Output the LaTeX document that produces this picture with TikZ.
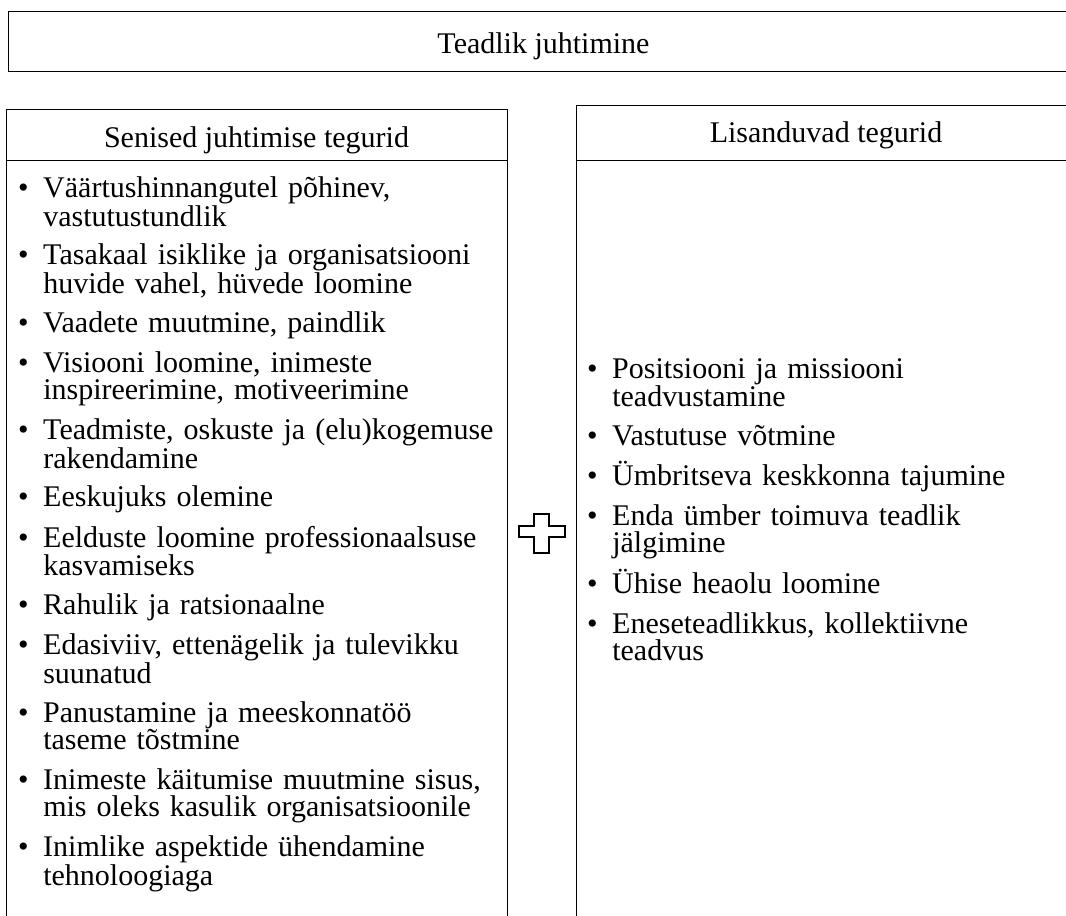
\documentclass[tikz,border=0pt]{standalone}
\usepackage{fontspec}
\setmainfont{Liberation Serif}
\usetikzlibrary{positioning}

\tikzset{
  frame/.style={draw=black,line width=0.75pt},
  heading/.style={font=\fontsize{22.5pt}{22pt}\selectfont,inner sep=0pt,anchor=base},
  point/.style={font=\fontsize{22.5pt}{20.25pt}\selectfont,inner sep=0pt,
    text width=350pt,align=left,anchor=base west}
}
\newcommand{\itm}[1]{\lineskiplimit=-\maxdimen\leavevmode\llap{\textbullet\hspace{11pt}}#1}

\begin{document}
\begin{tikzpicture}[x=0.75pt,y=-0.75pt]
        \useasboundingbox (0,0) rectangle (1066,915);
        \clip (0,0) rectangle (1066,915);

        % Frames
        \draw[frame] (8,11) rectangle (1079,71);
        \draw[frame] (6,109) rectangle (507,930);
        \draw[frame] (6,160) -- (507,160);
        \draw[frame] (576,105) rectangle (1076,930);
        \draw[frame] (576,160) -- (1076,160);

        % Headings
        \node[heading] (title) at (543.5,53) {Teadlik juhtimine};
        \node[heading] (oldhead) at (256.5,147) {Senised juhtimise tegurid};
        \node[heading] (newhead) at (826,142) {Lisanduvad tegurid};

        % Senised tegurid
        \node[point] (old1) at (43,197.5) {\itm{Väärtushinnangutel põhinev,\\vastutustundlik}};
        \node[point] (old2) at (43,264.8) {\itm{Tasakaal isiklike ja organisatsiooni\\huvide vahel, hüvede loomine}};
        \node[point] (old3) at (43,332.0) {\itm{Vaadete muutmine, paindlik}};
        \node[point] (old4) at (43,372.3) {\itm{Visiooni loomine, inimeste\\inspireerimine, motiveerimine}};
        \node[point] (old5) at (43,439.6) {\itm{Teadmiste, oskuste ja (elu)kogemuse\\rakendamine}};
        \node[point] (old6) at (43,506.8) {\itm{Eeskujuks olemine}};
        \node[point] (old7) at (43,547.1) {\itm{Eelduste loomine professionaalsuse\\kasvamiseks}};
        \node[point] (old8) at (43,614.4) {\itm{Rahulik ja ratsionaalne}};
        \node[point] (old9) at (43,654.7) {\itm{Edasiviiv, ettenägelik ja tulevikku\\suunatud}};
        \node[point] (old10) at (43,722.0) {\itm{Panustamine ja meeskonnatöö\\taseme tõstmine}};
        \node[point] (old11) at (43,789.2) {\itm{Inimeste käitumise muutmine sisus,\\mis oleks kasulik organisatsioonile}};
        \node[point] (old12) at (43,856.5) {\itm{Inimlike aspektide ühendamine\\tehnoloogiaga}};

        % Plus
        \draw[line width=1.5pt,line join=miter] (534,514) -- (549,514) -- (549,526) -- (565,526)
          -- (565,537) -- (549,537) -- (549,553) -- (534,553) -- (534,537) -- (519,537)
          -- (519,526) -- (534,526) -- cycle;

        % Lisanduvad tegurid
        \node[point] (new1) at (612,378) {\itm{Positsiooni ja missiooni\\teadvustamine}};
        \node[point] (new2) at (612,445.3) {\itm{Vastutuse võtmine}};
        \node[point] (new3) at (612,485.6) {\itm{Ümbritseva keskkonna tajumine}};
        \node[point] (new4) at (612,525.9) {\itm{Enda ümber toimuva teadlik\\jälgimine}};
        \node[point] (new5) at (612,593.2) {\itm{Ühise heaolu loomine}};
        \node[point] (new6) at (612,633.5) {\itm{Eneseteadlikkus, kollektiivne\\teadvus}};
\end{tikzpicture}
\end{document}
